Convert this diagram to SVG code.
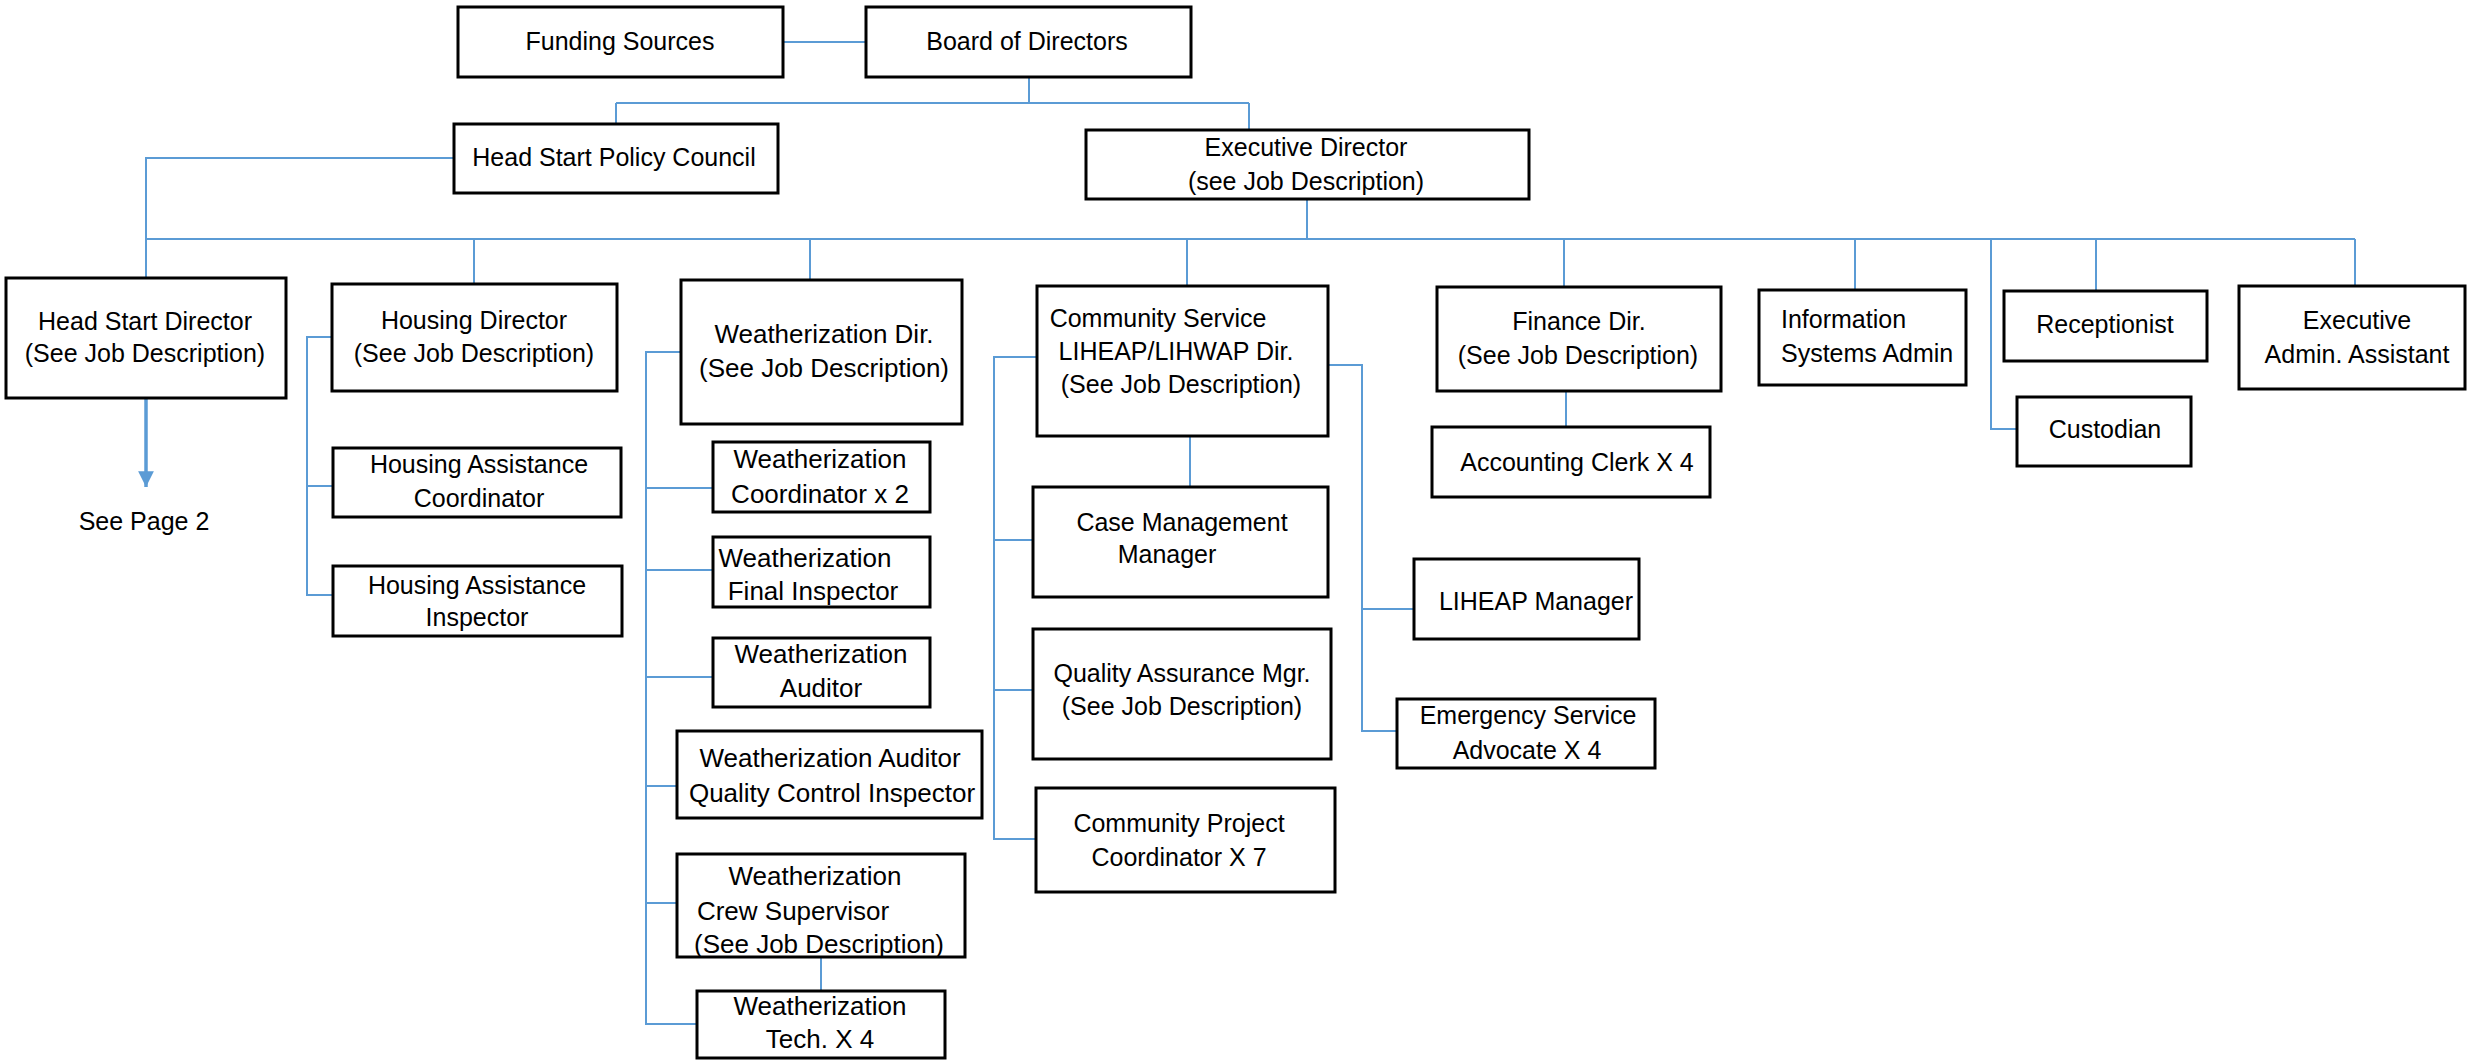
<svg xmlns="http://www.w3.org/2000/svg" width="2469" height="1062" viewBox="0 0 2469 1062">
<style>
.box{fill:#fff;stroke:#000;stroke-width:3}
.c{fill:none;stroke:#5B9BD5;stroke-width:2}
.a{fill:none;stroke:#5B9BD5;stroke-width:3.5}
text{font-family:"Liberation Sans",Arial,sans-serif;font-size:25px;fill:#000;text-anchor:middle}
.w{font-size:26px}
.l{text-anchor:start}
</style>
<defs>
<marker id="arr" viewBox="0 0 10 10" refX="10" refY="5" markerWidth="4.5" markerHeight="4.5" markerUnits="strokeWidth" orient="auto">
<path d="M0,0 L10,5 L0,10 z" fill="#5B9BD5"/>
</marker>
</defs>
<rect width="2469" height="1062" fill="#fff"/>
<g id="connectors">
<path class="c" d="M783,42 H866"/>
<path class="c" d="M1029,77 V103"/>
<path class="c" d="M616,103 H1249"/>
<path class="c" d="M616,103 V124"/>
<path class="c" d="M1249,103 V130"/>
<path class="c" d="M454,158 H146 V278"/>
<path class="c" d="M1307,199 V239"/>
<path class="c" d="M146,239 H2355"/>
<path class="c" d="M474,239 V284"/>
<path class="c" d="M810,239 V280"/>
<path class="c" d="M1187,239 V286"/>
<path class="c" d="M1564,239 V287"/>
<path class="c" d="M1855,239 V290"/>
<path class="c" d="M1991,239 V429 H2017"/>
<path class="c" d="M2096,239 V291"/>
<path class="c" d="M2355,239 V286"/>
<path class="c" d="M332,337 H307 V595 H333"/>
<path class="c" d="M307,486 H333"/>
<path class="c" d="M681,352 H646 V1024 H697"/>
<path class="c" d="M646,488 H713"/>
<path class="c" d="M646,570 H713"/>
<path class="c" d="M646,677 H713"/>
<path class="c" d="M646,786 H677"/>
<path class="c" d="M646,903 H677"/>
<path class="c" d="M821,957 V991"/>
<path class="c" d="M1037,357 H994 V839 H1036"/>
<path class="c" d="M994,540 H1033"/>
<path class="c" d="M994,690 H1033"/>
<path class="c" d="M1190,436 V487"/>
<path class="c" d="M1328,365 H1362 V731 H1397"/>
<path class="c" d="M1362,609 H1414"/>
<path class="c" d="M1566,391 V427"/>
<path class="a" d="M146,398 V487" marker-end="url(#arr)"/>
</g>
<g id="funding"><rect class="box" x="458" y="7" width="325" height="70"/><text x="620" y="50">Funding Sources</text></g>
<g id="board"><rect class="box" x="866" y="7" width="325" height="70"/><text x="1027" y="50">Board of Directors</text></g>
<g id="hspc"><rect class="box" x="454" y="124" width="324" height="69"/><text x="614" y="166">Head Start Policy Council</text></g>
<g id="execdir"><rect class="box" x="1086" y="130" width="443" height="69"/><text x="1306" y="156">Executive Director</text><text x="1306" y="190">(see Job Description)</text></g>
<g id="hsd"><rect class="box" x="6" y="278" width="280" height="120"/><text x="145" y="330">Head Start Director</text><text x="145" y="362">(See Job Description)</text></g>
<g id="seepage2"><text x="144" y="530">See Page 2</text></g>
<g id="housingdir"><rect class="box" x="332" y="284" width="285" height="107"/><text x="474" y="329">Housing Director</text><text x="474" y="362">(See Job Description)</text></g>
<g id="hac"><rect class="box" x="333" y="448" width="288" height="69"/><text x="479" y="473">Housing Assistance</text><text x="479" y="507">Coordinator</text></g>
<g id="hai"><rect class="box" x="333" y="566" width="289" height="70"/><text x="477" y="594">Housing Assistance</text><text x="477" y="626">Inspector</text></g>
<g id="wxdir"><rect class="box" x="681" y="280" width="281" height="144"/><text class="w" x="824" y="343">Weatherization Dir.</text><text class="w" x="824" y="377">(See Job Description)</text></g>
<g id="wxcoord"><rect class="box" x="713" y="442" width="217" height="70"/><text class="w" x="820" y="468">Weatherization</text><text class="w" x="820" y="503">Coordinator x 2</text></g>
<g id="wxfinal"><rect class="box" x="713" y="537" width="217" height="70"/><text class="w" x="805" y="567">Weatherization</text><text class="w" x="813" y="600">Final Inspector</text></g>
<g id="wxaud"><rect class="box" x="713" y="638" width="217" height="69"/><text class="w" x="821" y="663">Weatherization</text><text class="w" x="821" y="697">Auditor</text></g>
<g id="wxqc"><rect class="box" x="677" y="731" width="305" height="87"/><text class="w" x="830" y="767">Weatherization Auditor</text><text class="w" x="832" y="802">Quality Control Inspector</text></g>
<g id="wxcrew"><rect class="box" x="677" y="854" width="288" height="103"/><text class="w" x="815" y="885">Weatherization</text><text class="w" x="793" y="920">Crew Supervisor</text><text class="w" x="819" y="953">(See Job Description)</text></g>
<g id="wxtech"><rect class="box" x="697" y="991" width="248" height="67"/><text class="w" x="820" y="1015">Weatherization</text><text class="w" x="820" y="1048">Tech. X 4</text></g>
<g id="csdir"><rect class="box" x="1037" y="286" width="291" height="150"/><text x="1158" y="327">Community Service</text><text x="1176" y="360">LIHEAP/LIHWAP Dir.</text><text x="1181" y="393">(See Job Description)</text></g>
<g id="casemgmt"><rect class="box" x="1033" y="487" width="295" height="110"/><text x="1182" y="531">Case Management</text><text x="1167" y="563">Manager</text></g>
<g id="qa"><rect class="box" x="1033" y="629" width="298" height="130"/><text x="1182" y="682">Quality Assurance Mgr.</text><text x="1182" y="715">(See Job Description)</text></g>
<g id="cpc"><rect class="box" x="1036" y="788" width="299" height="104"/><text x="1179" y="832">Community Project</text><text x="1179" y="866">Coordinator X 7</text></g>
<g id="liheap"><rect class="box" x="1414" y="559" width="225" height="80"/><text x="1536" y="610">LIHEAP Manager</text></g>
<g id="esa"><rect class="box" x="1397" y="699" width="258" height="69"/><text x="1528" y="724">Emergency Service</text><text x="1527" y="759">Advocate X 4</text></g>
<g id="finance"><rect class="box" x="1437" y="287" width="284" height="104"/><text x="1579" y="330">Finance Dir.</text><text x="1578" y="364">(See Job Description)</text></g>
<g id="acct"><rect class="box" x="1432" y="427" width="278" height="70"/><text x="1577" y="471">Accounting Clerk X 4</text></g>
<g id="info"><rect class="box" x="1759" y="290" width="207" height="95"/><text class="l" x="1781" y="328">Information</text><text class="l" x="1781" y="362">Systems Admin</text></g>
<g id="recept"><rect class="box" x="2004" y="291" width="203" height="70"/><text x="2105" y="333">Receptionist</text></g>
<g id="custodian"><rect class="box" x="2017" y="397" width="174" height="69"/><text x="2105" y="438">Custodian</text></g>
<g id="execadmin"><rect class="box" x="2239" y="286" width="226" height="103"/><text x="2357" y="329">Executive</text><text x="2357" y="363">Admin. Assistant</text></g>
</svg>
